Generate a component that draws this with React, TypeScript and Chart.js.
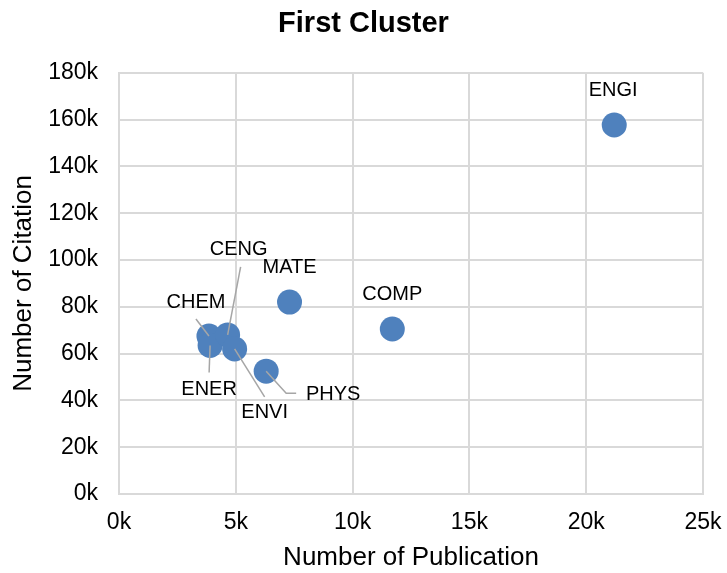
import React, { useEffect, useRef } from "react";
import { Chart, registerables } from "chart.js";

Chart.register(...registerables);

const fields = ["ENGI", "COMP", "MATE", "PHYS", "CHEM", "ENER", "CENG", "ENVI"];
const publications = [21200, 11700, 7300, 6300, 3850, 3900, 4650, 4950];
const citations = [157700, 70500, 82000, 52500, 67500, 63500, 68000, 62000];

const xTicks = [0, 5000, 10000, 15000, 20000, 25000];
const yTicks = [0, 20000, 40000, 60000, 80000, 100000, 120000, 140000, 160000, 180000];

// label placement (pixel offsets from the point) and leader-line paths
const labelStyle: Record<string, { dx: number; dy: number; leader?: number[][] }> = {
  ENGI: { dx: -1, dy: -34 },
  COMP: { dx: 0, dy: -35 },
  MATE: { dx: 0, dy: -35 },
  CENG: { dx: 11, dy: -85, leader: [[13, -68]] },
  CHEM: { dx: -13, dy: -34, leader: [[-13, -17]] },
  ENER: { dx: -1, dy: 44, leader: [[-1, 27]] },
  ENVI: { dx: 30, dy: 64, leader: [[30, 48]] },
  PHYS: { dx: 67, dy: 23, leader: [[20, 22], [30, 22]] },
};

const FONT = "'Liberation Sans', Arial, sans-serif";

const labelPlugin = {
  id: "pointLabels",
  afterDatasetsDraw(chart: any) {
    const ctx = chart.ctx;
    const meta = chart.getDatasetMeta(0);
    ctx.save();
    meta.data.forEach((el: any, i: number) => {
      const name = fields[i];
      const st = labelStyle[name];
      const px = el.x, py = el.y;
      if (st.leader) {
        ctx.strokeStyle = "#a6a6a6";
        ctx.lineWidth = 1.5;
        ctx.beginPath();
        ctx.moveTo(px, py);
        st.leader.forEach((p) => ctx.lineTo(px + p[0], py + p[1]));
        ctx.stroke();
      }
      ctx.fillStyle = "#000000";
      ctx.font = `20px ${FONT}`;
      ctx.textAlign = "center";
      ctx.textBaseline = "middle";
      ctx.fillText(name, px + st.dx, py + st.dy);
    });
    ctx.restore();
  },
};

export default function App() {
  const ref = useRef<HTMLCanvasElement>(null);
  useEffect(() => {
    if (!ref.current) return;
    const chart = new Chart(ref.current, {
      type: "scatter",
      data: {
        datasets: [
          {
            data: publications.map((x, i) => ({ x, y: citations[i] })),
            backgroundColor: "#4f81bd",
            borderColor: "#4f81bd",
            pointRadius: 12.5,
            pointHoverRadius: 12.5,
            borderWidth: 0,
          },
        ],
      },
      options: {
        animation: false,
        responsive: false,
        layout: { padding: 0 },
        plugins: {
          legend: { display: false },
          tooltip: { enabled: false },
          title: {
            display: true,
            text: "First Cluster",
            color: "#000000",
            font: { family: FONT, size: 29, weight: "bold" },
            padding: { top: 7, bottom: 31 },
          },
        },
        scales: {
          x: {
            type: "linear",
            min: 0,
            max: 25000,
            afterBuildTicks: (s: any) => {
              s.ticks = xTicks.map((v) => ({ value: v }));
            },
            afterFit: (s: any) => {
              s.height = 79;
              s.paddingLeft = 0;
              s.paddingRight = 24;
            },
            ticks: {
              color: "#000000",
              font: { family: FONT, size: 23 },
              padding: 15,
              callback: (v: any) => `${Number(v) / 1000}k`,
            },
            grid: { color: "#d9d9d9", lineWidth: 2, drawTicks: false },
            border: { display: true, color: "#d9d9d9", width: 2 },
            title: {
              display: true,
              text: "Number of Publication",
              color: "#000000",
              font: { family: FONT, size: 26 },
              padding: { top: 0, bottom: 0 },
            },
          },
          y: {
            type: "linear",
            min: 0,
            max: 180000,
            afterBuildTicks: (s: any) => {
              s.ticks = yTicks.map((v) => ({ value: v }));
            },
            afterFit: (s: any) => {
              s.width = 119;
              s.paddingTop = 0;
              s.paddingBottom = 0;
            },
            ticks: {
              color: "#000000",
              font: { family: FONT, size: 23 },
              padding: 21,
              callback: (v: any) => `${Number(v) / 1000}k`,
            },
            grid: { color: "#d9d9d9", lineWidth: 2, drawTicks: false },
            border: { display: true, color: "#d9d9d9", width: 2 },
            title: {
              display: true,
              text: "Number of Citation",
              color: "#000000",
              font: { family: FONT, size: 26 },
              padding: { top: 8, bottom: 0 },
            },
          },
        },
      },
      plugins: [labelPlugin],
    });
    return () => chart.destroy();
  }, []);
  return (
    <div style={{ position: "fixed", left: 0, top: 0, width: 727, height: 573, background: "#fff" }}>
      <canvas ref={ref} width={727} height={573} />
    </div>
  );
}
